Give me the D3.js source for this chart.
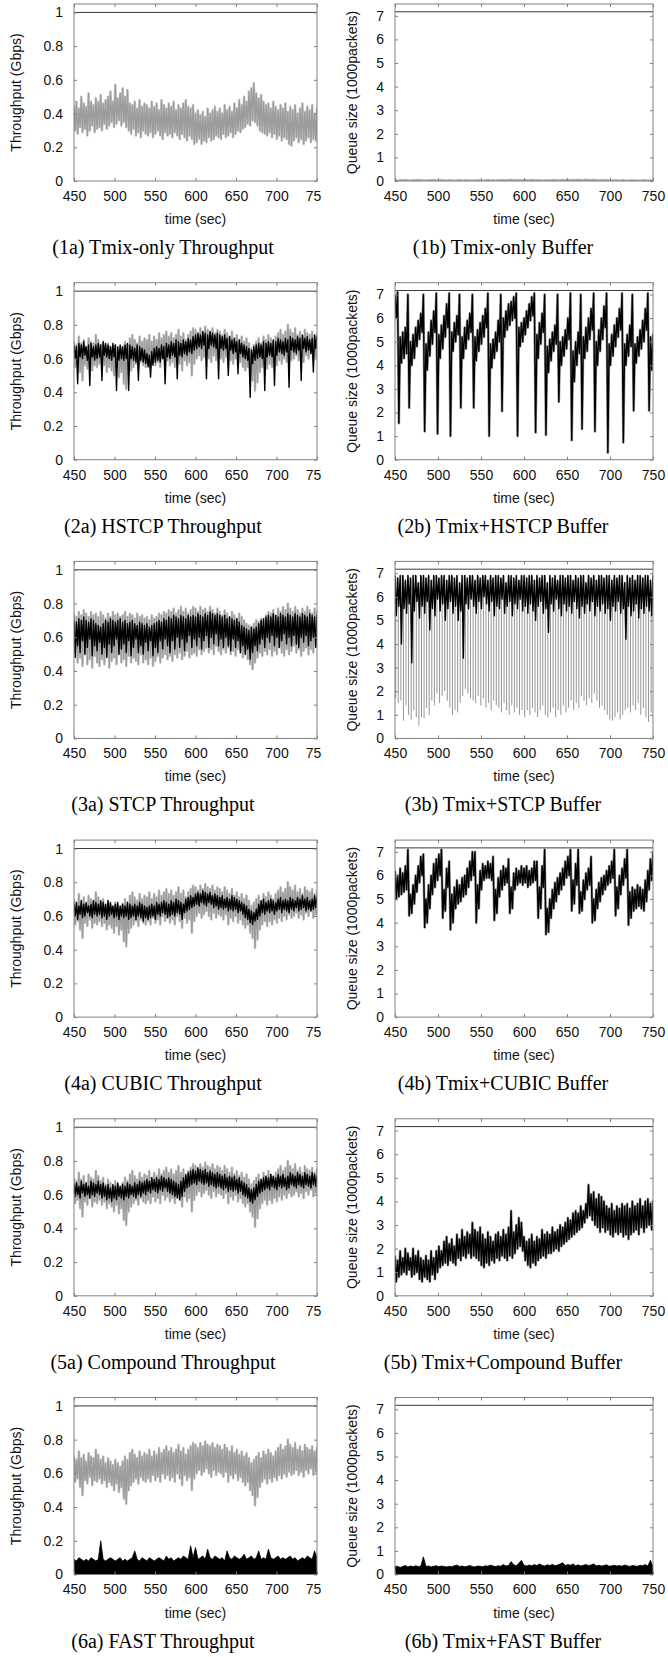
<!DOCTYPE html>
<html lang="en">
<head>
<meta charset="UTF-8">
<title>Throughput and queue size</title>
<script src="https://d3js.org/d3.v7.min.js"></script>
<style>
  body { margin: 0; background: #fff; }
  svg text { font-family: "Liberation Sans", Arial, sans-serif; }
  svg text.cap { font-family: "Liberation Serif", "Times New Roman", serif; }
</style>
</head>
<body>
<svg width="668" height="1657"></svg>
<script>
  // sample times (sec), one hi / lo reading per sample
  const times = d3.range(450, 751, 3);
  const timeTicks = [450, 500, 550, 600, 650, 700, 750];
  const tputTicks = [0, 0.2, 0.4, 0.6, 0.8, 1];
  const queueTicks = [0, 1, 2, 3, 4, 5, 6, 7];
  const linkCap = 1.0;   // Gbps
  const bufCap = 7.17;   // 1000 packets

  const captionsA = ["(1a) Tmix-only Throughput", "(2a) HSTCP Throughput", "(3a) STCP Throughput",
    "(4a) CUBIC Throughput", "(5a) Compound Throughput", "(6a) FAST Throughput"];
  const captionsB = ["(1b) Tmix-only Buffer", "(2b) Tmix+HSTCP Buffer", "(3b) Tmix+STCP Buffer",
    "(4b) Tmix+CUBIC Buffer", "(5b) Tmix+Compound Buffer", "(6b) Tmix+FAST Buffer"];

  // ---- throughput (Gbps) ----
  const tmixHi = [.45,.47,.43,.50,.46,.44,.52,.47,.45,.49, .47,.51,.46,.48,.50,.53,.47,.57,.49,.52,
    .55,.50,.54,.46,.45,.47,.43,.48,.44,.46, .45,.43,.47,.44,.46,.42,.48,.45,.43,.46,
    .44,.47,.42,.45,.43,.46,.48,.44,.43,.45, .40,.42,.39,.41,.38,.43,.40,.42,.44,.41,
    .43,.40,.45,.42,.44,.41,.46,.43,.48,.45, .50,.47,.53,.55,.58,.52,.49,.51,.47,.45,
    .46,.43,.47,.44,.42,.45,.43,.46,.41,.44, .42,.45,.40,.43,.46,.41,.44,.42,.45,.40,.43];
  const tmixLo = [.30,.28,.32,.29,.31,.27,.30,.33,.29,.31, .32,.30,.34,.31,.33,.35,.32,.34,.36,.33,
    .35,.32,.30,.28,.31,.27,.29,.26,.30,.28, .27,.29,.26,.28,.30,.27,.25,.29,.27,.28,
    .26,.29,.27,.25,.28,.26,.24,.27,.25,.22, .23,.25,.22,.24,.23,.26,.24,.25,.27,.26,
    .25,.28,.26,.27,.29,.26,.28,.30,.29,.31, .32,.34,.33,.36,.35,.33,.30,.29,.28,.27,
    .29,.26,.28,.25,.27,.24,.26,.25,.22,.21, .24,.26,.23,.25,.22,.24,.26,.23,.25,.24,.26];

  // aggregate (grey) throughput, panels 2a, 4a, 5a, 6a
  const totalHi = [.70,.68,.73,.69,.71,.67,.72,.70,.69,.74, .71,.68,.70,.66,.69,.67,.65,.68,.66,.64,
    .67,.70,.68,.72,.74,.71,.69,.73,.70,.72, .71,.74,.70,.73,.71,.75,.72,.74,.76,.73,
    .75,.72,.74,.77,.73,.75,.71,.74,.76,.78, .77,.75,.78,.76,.79,.77,.76,.78,.75,.77,
    .76,.74,.77,.75,.73,.76,.72,.74,.71,.73, .70,.72,.69,.66,.68,.70,.72,.69,.73,.71,
    .74,.72,.70,.73,.75,.77,.74,.76,.80,.77, .75,.78,.74,.76,.73,.77,.75,.74,.76,.73,.75];
  const totalLo = [.55,.57,.52,.47,.56,.54,.58,.53,.56,.55, .57,.54,.56,.52,.55,.53,.50,.54,.49,.52,
    .45,.42,.50,.53,.55,.57,.54,.58,.56,.55, .57,.55,.59,.56,.58,.55,.60,.57,.59,.56,
    .58,.55,.60,.57,.53,.59,.56,.58,.50,.57, .60,.62,.59,.61,.63,.60,.58,.62,.59,.61,
    .60,.58,.61,.55,.59,.57,.60,.56,.58,.55, .53,.55,.50,.47,.41,.46,.52,.55,.57,.54,
    .57,.55,.58,.56,.59,.57,.60,.58,.61,.59, .60,.62,.59,.61,.58,.62,.60,.63,.59,.61,.60];

  const hstcpHi = [.68,.67,.69,.68,.70,.67,.68,.69,.67,.68, .69,.68,.70,.69,.68,.67,.69,.68,.67,.68,
    .67,.68,.69,.68,.67,.66,.68,.67,.66,.65, .63,.62,.64,.66,.67,.66,.68,.67,.69,.68,
    .70,.69,.71,.70,.69,.71,.70,.72,.71,.73, .74,.75,.74,.76,.75,.74,.76,.75,.74,.75,
    .74,.73,.74,.72,.73,.71,.72,.70,.71,.69, .68,.67,.66,.65,.67,.68,.69,.68,.70,.69,
    .70,.69,.71,.70,.72,.71,.70,.72,.71,.73, .72,.71,.73,.72,.74,.72,.73,.71,.72,.74,.73];
  const hstcpLo = [.60,.45,.61,.60,.62,.59,.44,.61,.59,.60, .61,.47,.62,.61,.60,.59,.61,.41,.59,.60,
    .59,.60,.41,.60,.59,.58,.47,.59,.58,.57, .55,.49,.56,.58,.59,.58,.60,.45,.61,.60,
    .62,.61,.48,.62,.61,.63,.62,.64,.63,.65, .66,.67,.66,.68,.48,.66,.68,.67,.66,.48,
    .66,.65,.66,.50,.65,.63,.64,.51,.63,.61, .60,.59,.37,.57,.59,.60,.61,.60,.41,.61,
    .62,.61,.44,.62,.64,.63,.62,.64,.43,.65, .64,.63,.65,.47,.66,.64,.65,.63,.52,.66,.65];

  const stcpTotalHi = [.74,.72,.75,.73,.76,.74,.72,.75,.73,.74, .72,.75,.73,.71,.74,.72,.75,.73,.74,.72,
    .73,.75,.72,.74,.73,.71,.74,.72,.73,.71, .72,.70,.73,.71,.72,.74,.73,.75,.74,.76,
    .75,.77,.74,.76,.78,.75,.77,.74,.76,.78, .77,.75,.78,.76,.77,.75,.78,.76,.74,.77,
    .75,.73,.76,.74,.72,.75,.73,.71,.74,.72, .70,.68,.67,.66,.68,.70,.69,.71,.70,.73,
    .75,.74,.76,.73,.77,.75,.78,.76,.80,.77, .75,.78,.76,.74,.77,.75,.78,.76,.74,.77,.75];
  const stcpTotalLo = [.52,.45,.48,.43,.50,.44,.47,.42,.49,.45, .43,.47,.44,.49,.42,.46,.48,.44,.50,.45,
    .47,.43,.49,.45,.48,.46,.44,.50,.45,.47, .44,.48,.43,.46,.49,.45,.48,.50,.47,.49,
    .46,.50,.48,.51,.47,.49,.52,.48,.50,.51, .49,.53,.50,.52,.54,.51,.53,.50,.55,.52,
    .50,.53,.51,.54,.50,.52,.49,.53,.51,.48, .50,.47,.44,.41,.45,.48,.51,.49,.52,.50,
    .53,.49,.52,.50,.54,.51,.49,.53,.50,.52, .55,.51,.53,.49,.52,.54,.50,.53,.51,.55,.52];
  const stcpHi = [.70,.69,.71,.70,.72,.70,.69,.71,.70,.68, .67,.66,.68,.70,.69,.71,.70,.69,.70,.71,
    .69,.70,.68,.69,.70,.68,.67,.69,.68,.67, .68,.66,.67,.68,.69,.70,.69,.71,.70,.72,
    .71,.73,.72,.71,.73,.72,.71,.73,.72,.73, .72,.74,.73,.72,.74,.73,.75,.74,.73,.74,
    .73,.72,.73,.71,.72,.71,.70,.71,.69,.67, .66,.65,.64,.66,.65,.66,.68,.70,.71,.72,
    .73,.72,.74,.73,.72,.74,.73,.72,.74,.73, .72,.74,.73,.72,.74,.73,.72,.74,.73,.72,.73];
  const stcpLo = [.48,.55,.51,.58,.50,.54,.59,.49,.55,.52, .57,.50,.54,.48,.56,.51,.55,.59,.50,.53,
    .56,.51,.58,.49,.54,.59,.51,.55,.50,.57, .52,.58,.49,.54,.51,.58,.53,.59,.55,.51,
    .58,.53,.60,.54,.59,.52,.57,.61,.54,.59, .55,.60,.53,.58,.61,.54,.60,.56,.62,.55,
    .59,.54,.60,.55,.52,.59,.54,.58,.51,.55, .50,.53,.47,.51,.55,.52,.56,.59,.54,.60,
    .57,.61,.55,.60,.54,.58,.62,.56,.60,.55, .61,.56,.54,.60,.57,.61,.55,.58,.60,.54,.57];

  const cubicHi = [.67,.68,.66,.69,.67,.68,.66,.67,.69,.68, .67,.69,.68,.67,.69,.68,.66,.67,.68,.66,
    .67,.66,.68,.67,.66,.67,.66,.68,.67,.66, .65,.66,.67,.66,.68,.67,.68,.69,.68,.67,
    .69,.68,.70,.69,.68,.67,.70,.71,.72,.71, .73,.74,.73,.75,.74,.73,.74,.72,.73,.72,
    .71,.72,.70,.71,.70,.72,.71,.70,.69,.68, .67,.66,.64,.63,.62,.64,.67,.69,.70,.68,
    .69,.70,.69,.68,.70,.71,.69,.70,.69,.71, .70,.69,.71,.70,.72,.70,.71,.69,.70,.72,.71];
  const cubicLo = [.60,.58,.61,.59,.60,.62,.60,.59,.61,.60, .61,.59,.60,.58,.60,.61,.59,.60,.58,.60,
    .59,.60,.58,.59,.60,.58,.60,.59,.57,.59, .58,.59,.60,.58,.61,.60,.62,.61,.59,.60,
    .61,.60,.62,.61,.58,.62,.63,.64,.65,.66, .67,.66,.68,.67,.66,.68,.67,.65,.66,.64,
    .65,.64,.65,.63,.64,.63,.64,.62,.63,.61, .59,.58,.56,.55,.57,.58,.60,.62,.61,.63,
    .62,.63,.61,.63,.64,.62,.64,.63,.62,.64, .63,.65,.63,.64,.65,.63,.64,.63,.64,.65,.64];

  const compoundHi = [.66,.67,.65,.68,.66,.67,.65,.68,.67,.66, .68,.66,.67,.65,.66,.64,.66,.65,.67,.65,
    .66,.65,.67,.66,.65,.67,.66,.68,.67,.68, .69,.68,.70,.69,.70,.69,.71,.70,.69,.70,
    .69,.68,.67,.66,.68,.70,.72,.73,.74,.75, .74,.76,.75,.74,.75,.73,.74,.73,.72,.73,
    .72,.71,.72,.70,.71,.70,.71,.69,.70,.68, .67,.66,.64,.63,.64,.66,.68,.69,.70,.71,
    .70,.72,.71,.70,.72,.71,.72,.70,.71,.73, .72,.71,.73,.72,.71,.73,.72,.71,.73,.72,.71];
  const compoundLo = [.59,.60,.58,.61,.59,.60,.58,.60,.59,.61, .60,.58,.59,.57,.58,.56,.58,.57,.59,.58,
    .57,.59,.58,.60,.59,.58,.60,.59,.61,.60, .62,.61,.63,.62,.61,.63,.62,.64,.62,.61,
    .60,.59,.58,.57,.59,.62,.64,.65,.66,.67, .66,.68,.67,.66,.67,.65,.66,.65,.64,.65,
    .64,.63,.64,.62,.63,.62,.63,.61,.62,.60, .59,.58,.56,.55,.57,.59,.61,.62,.63,.64,
    .63,.65,.64,.63,.65,.64,.65,.63,.64,.66, .65,.64,.66,.65,.64,.66,.65,.64,.66,.65,.64];

  const fastTput = [.09,.08,.10,.09,.08,.09,.08,.10,.09,.08, .09,.20,.09,.08,.09,.10,.09,.08,.09,.10,
    .08,.09,.08,.09,.10,.14,.09,.08,.10,.09, .08,.10,.09,.08,.09,.10,.09,.08,.11,.09,
    .10,.08,.09,.10,.09,.11,.10,.09,.17,.10, .16,.09,.10,.11,.09,.15,.10,.09,.11,.10,
    .09,.10,.08,.14,.10,.09,.11,.10,.09,.10, .12,.09,.10,.11,.09,.10,.14,.09,.10,.09,
    .15,.10,.09,.10,.11,.09,.10,.09,.10,.11, .09,.10,.08,.09,.10,.09,.11,.10,.09,.14,.10];

  // ---- queue size (1000 packets) ----
  const tmixQueue = [.05,.04,.06,.05,.07,.05,.04,.06,.05,.07, .06,.05,.04,.06,.05,.07,.05,.04,.06,.05,
    .04,.06,.05,.04,.05,.06,.04,.05,.06,.04, .05,.04,.06,.05,.04,.05,.07,.05,.06,.04,
    .06,.05,.07,.05,.06,.08,.05,.07,.06,.05, .07,.06,.05,.07,.06,.05,.06,.04,.05,.06,
    .05,.06,.07,.05,.06,.07,.06,.08,.06,.07, .06,.08,.07,.06,.09,.07,.06,.08,.06,.05,
    .06,.05,.07,.05,.04,.06,.05,.04,.06,.05, .04,.05,.06,.04,.05,.04,.06,.05,.04,.05,.04];

  const qHstcpHi = [7.0,7.1,5.2,5.4,5.6,7.0,5.0,5.3,5.6,5.9, 6.2,7.0,4.9,5.4,5.9,6.3,7.05,5.3,5.7,6.1,
    6.6,7.05,5.4,5.8,6.1,7.0,5.2,5.6,5.9,6.2, 7.0,5.2,5.5,5.8,6.1,6.4,7.05,4.9,5.1,5.4,
    5.9,7.0,6.0,6.3,6.6,6.7,6.9,7.05,5.6,5.8, 6.0,6.3,6.6,6.9,7.05,5.3,5.8,6.2,7.0,4.8,
    5.1,5.4,5.7,7.0,5.0,5.2,5.5,6.0,7.05,4.6, 5.0,5.4,7.0,5.2,5.6,6.0,6.4,7.05,5.0,5.5,
    6.0,6.5,7.05,4.9,5.3,5.7,6.0,6.4,7.05,4.9, 5.3,5.7,7.0,4.9,5.2,5.5,5.9,6.4,7.05,5.2,5.3];
  const qHstcpLo = [6.0,1.55,4.1,4.3,4.5,2.2,4.0,4.3,4.8,5.1, 5.4,1.2,3.8,4.4,4.9,5.4,1.1,4.3,4.7,5.2,
    5.6,1.0,4.6,5.0,5.3,2.2,4.3,4.7,5.1,5.4, 2.2,4.2,4.6,4.9,5.2,5.6,1.0,3.9,4.3,4.6,
    5.0,2.05,5.2,5.5,5.7,5.9,6.0,1.0,4.8,5.0, 5.3,5.6,5.9,6.1,1.15,4.3,4.9,5.4,1.05,3.7,
    4.2,4.6,4.9,2.45,4.0,4.4,4.7,5.1,0.82,3.3, 4.0,4.5,1.3,4.3,4.6,5.1,5.5,1.2,4.0,4.6,
    5.1,5.6,0.3,4.0,4.4,4.8,5.2,5.5,0.73,4.0, 4.4,4.8,2.08,4.1,4.4,4.7,5.0,5.5,2.08,3.8,4.2];

  const qStcpHi = [6.9,6.8,6.9,6.9,6.7,6.9,6.8,6.9,6.9,6.6, 6.9,6.9,6.8,6.9,6.7,6.9,6.9,6.8,6.9,6.9,
    6.7,6.9,6.9,6.8,6.9,6.6,6.9,6.9,6.8,6.9, 6.9,6.7,6.9,6.8,6.9,6.9,6.7,6.9,6.8,6.9,
    6.9,6.8,6.9,6.6,6.9,6.9,6.8,6.9,6.7,6.9, 6.9,6.8,6.9,6.9,6.7,6.9,6.8,6.9,6.9,6.6,
    6.9,6.8,6.9,6.7,6.9,6.9,6.8,6.9,6.9,6.7, 6.9,6.8,6.9,6.9,6.6,6.9,6.8,6.9,6.7,6.9,
    6.9,6.8,6.9,6.9,6.7,6.9,6.8,6.9,6.9,6.6, 6.9,6.8,6.9,6.7,6.9,6.9,6.8,6.9,6.9,6.7,6.9];
  const qStcpLo = [5.2,5.6,4.0,5.5,5.3,5.7,3.2,5.4,5.8,5.1, 5.6,5.3,5.8,4.6,5.5,5.2,5.9,5.4,5.7,5.0,
    5.5,5.8,5.3,5.6,5.0,5.4,3.4,5.7,5.5,5.9, 5.6,5.3,5.8,5.5,6.0,5.7,5.4,5.8,5.2,5.6,
    5.5,5.9,5.3,5.6,5.8,5.2,5.7,5.5,5.9,5.4, 5.6,5.3,5.7,5.4,5.0,5.6,5.8,5.3,5.5,4.5,
    5.7,5.4,5.9,5.5,5.2,5.7,5.4,5.6,5.3,5.8, 5.5,5.1,5.6,5.3,5.7,5.4,5.8,5.2,5.6,5.4,
    5.7,5.3,5.5,5.0,5.6,5.4,5.8,5.3,5.5,4.2, 5.6,5.2,5.4,5.7,5.1,5.5,5.3,5.6,5.4,5.2,5.5];
  // deepest point of each grey drop in 3b
  const qStcpDrop = [1.7,1.5,1.6,0.75,1.4,1.0,0.8,1.2,0.9,0.55, 0.9,0.85,1.3,1.0,1.6,1.4,1.9,1.5,1.8,2.0,
    1.6,1.3,1.0,1.2,1.1,1.5,1.8,2.1,1.9,1.7, 1.6,1.5,1.8,1.4,1.7,1.3,1.5,1.2,1.6,1.4,
    1.3,1.1,1.5,1.2,1.0,1.4,1.1,1.3,1.0,1.2, 0.9,1.2,1.0,1.3,1.1,0.9,1.2,1.4,1.0,0.9,
    1.1,1.3,0.9,1.2,1.0,1.4,1.1,1.3,1.6,1.2, 1.5,1.3,1.8,1.6,1.4,1.7,1.5,1.9,1.6,1.3,
    1.4,1.2,1.0,0.8,0.75,0.9,1.1,0.8,1.0,1.2, 1.3,1.1,1.4,1.2,1.5,1.0,1.3,0.9,0.7,1.1,0.8];

  const qCubicHi = [6.2,6.0,6.3,6.1,6.4,7.1,5.2,5.6,6.0,6.4, 6.8,6.9,5.0,5.6,6.0,6.5,6.7,6.9,7.1,5.4,
    6.3,6.6,5.2,5.5,5.8,5.6,5.9,6.0,6.3,6.6, 7.0,7.0,5.6,6.2,6.5,6.4,6.6,6.5,6.8,5.4,
    5.9,6.2,6.4,6.3,6.7,5.5,6.1,6.3,6.2,6.4, 6.3,6.4,6.2,6.3,6.6,6.6,5.5,6.4,7.1,4.6,
    5.0,5.4,5.7,5.9,6.1,6.3,6.6,6.8,7.1,5.8, 6.5,7.1,5.3,5.8,6.1,6.3,6.8,5.0,5.4,5.7,
    5.9,6.0,6.2,6.4,6.6,7.1,5.5,6.0,6.3,6.7, 7.1,5.3,5.5,5.4,5.6,5.5,5.4,5.8,6.2,6.7,7.0];
  const qCubicLo = [5.0,5.1,5.2,5.3,5.4,4.3,4.4,4.8,5.3,5.7, 6.0,3.8,4.0,4.6,5.2,5.5,5.8,6.0,4.2,4.5,
    5.5,3.7,4.0,4.6,4.8,4.9,5.1,5.2,5.5,5.8, 6.0,4.0,4.6,5.4,5.8,5.9,5.9,5.8,4.1,4.4,
    5.1,5.4,5.6,5.7,4.4,4.6,5.4,5.6,5.7,5.6, 5.7,5.5,5.6,5.7,5.8,4.2,4.6,5.5,3.5,3.6,
    4.2,4.6,4.9,5.2,5.4,5.6,5.9,6.0,4.5,4.8, 5.6,4.4,4.5,5.0,5.4,5.6,4.0,4.1,4.6,4.9,
    5.2,5.4,5.6,5.7,5.9,4.3,4.6,5.2,5.6,5.9, 3.9,4.2,4.5,4.6,4.7,4.6,4.5,4.9,5.4,5.8,6.0];

  const qCompoundHi = [1.7,1.5,1.9,1.6,2.0,1.8,1.6,2.0,1.7,1.9, 1.6,1.5,1.7,1.5,1.9,1.6,1.9,2.1,1.9,2.3,
    2.5,2.2,2.4,2.1,2.6,2.4,2.8,2.5,2.7,2.6, 3.1,2.8,2.7,2.9,2.6,2.4,2.7,2.5,2.3,2.6,
    2.7,2.5,2.8,2.6,2.9,3.6,2.7,3.0,3.3,3.1, 2.5,2.3,2.4,2.6,2.3,2.5,2.4,2.8,2.6,2.7,
    2.6,2.9,2.7,2.8,3.0,2.9,3.1,3.3,3.2,3.5, 3.6,3.5,3.8,3.6,3.9,4.7,4.3,4.4,4.1,4.3,
    4.2,4.0,3.8,3.7,3.9,3.6,3.8,3.7,3.9,3.8, 3.9,3.7,4.0,3.8,3.9,4.1,3.8,4.0,4.1,3.9,4.0];
  const qCompoundLo = [0.6,0.8,0.9,1.0,0.9,1.1,0.8,0.9,1.0,0.7, 0.6,0.8,0.7,0.6,0.9,0.7,1.0,1.2,1.3,1.4,
    1.3,1.5,1.4,1.3,1.6,1.5,1.7,1.6,1.8,1.6, 1.7,1.6,1.5,1.3,1.2,1.4,1.3,1.5,1.4,1.6,
    1.5,1.7,1.6,1.5,1.7,1.6,1.8,2.0,2.1,1.9, 1.5,1.3,1.2,1.4,1.3,1.5,1.6,1.7,1.6,1.8,
    1.8,1.9,2.0,1.9,2.1,2.2,2.3,2.4,2.5,2.6, 2.7,2.8,2.9,3.1,3.3,3.4,3.2,3.0,2.9,2.7,
    2.9,2.7,2.8,2.6,2.5,2.7,2.6,2.7,2.5,2.6, 2.4,2.6,2.7,2.8,2.6,2.9,2.7,2.9,3.0,2.8,2.9];

  const qFast = [.33,.35,.30,.34,.38,.32,.36,.33,.37,.34, .35,.75,.34,.36,.32,.35,.37,.33,.36,.34,
    .32,.35,.33,.37,.40,.34,.36,.33,.35,.38, .34,.32,.36,.35,.33,.37,.35,.40,.36,.34,
    .37,.35,.42,.36,.38,.55,.41,.37,.48,.60, .39,.36,.40,.37,.42,.38,.45,.39,.36,.41,
    .38,.43,.37,.40,.44,.50,.38,.42,.39,.45, .37,.41,.36,.39,.42,.38,.40,.45,.37,.39,
    .36,.38,.41,.35,.37,.39,.36,.38,.35,.40, .37,.34,.38,.36,.35,.39,.37,.42,.36,.60,.34];

  const GREY = "#9c9c9c", GREY_LT = "#cfcfcf";

  const panelsA = [
    [{ type: "zig", hi: tmixHi, lo: tmixLo, color: GREY, halo: GREY_LT }],
    [{ type: "zig", hi: totalHi, lo: totalLo, color: GREY, halo: GREY_LT },
     { type: "zig", hi: hstcpHi, lo: hstcpLo, color: "#000" }],
    [{ type: "zig", hi: stcpTotalHi, lo: stcpTotalLo, color: GREY, halo: GREY_LT },
     { type: "zig", hi: stcpHi, lo: stcpLo, color: "#000" }],
    [{ type: "zig", hi: totalHi, lo: totalLo, color: GREY, halo: GREY_LT },
     { type: "zig", hi: cubicHi, lo: cubicLo, color: "#000" }],
    [{ type: "zig", hi: totalHi, lo: totalLo, color: GREY, halo: GREY_LT },
     { type: "zig", hi: compoundHi, lo: compoundLo, color: "#000" }],
    [{ type: "zig", hi: totalHi, lo: totalLo, color: GREY, halo: GREY_LT },
     { type: "fill", hi: fastTput, color: "#000" }]
  ];
  const panelsB = [
    [{ type: "fill", hi: tmixQueue, color: "#a8a8a8" }],
    [{ type: "zig", hi: qHstcpHi, lo: qHstcpLo, color: "#000", halo: GREY }],
    [{ type: "bars", hi: qStcpHi, lo: qStcpDrop, color: "#8a8a8a" },
     { type: "zig", hi: qStcpHi, lo: qStcpLo, color: "#000" }],
    [{ type: "zig", hi: qCubicHi, lo: qCubicLo, color: "#000", halo: GREY }],
    [{ type: "zig", hi: qCompoundHi, lo: qCompoundLo, color: "#000", halo: GREY }],
    [{ type: "fill", hi: qFast, color: "#000" }]
  ];

  const svg = d3.select("svg");
  const defs = svg.append("defs");
  const rowPitch = 278.7, plotH = 177, top0 = 4;
  const cols = [
    { x0: 74, x1: 317, capX: 163, labelX: 21, yLabel: "Throughput (Gbps)", domain: [0, 1.05], ticks: tputTicks, cap: linkCap },
    { x0: 395, x1: 653, capX: 503, labelX: 357, yLabel: "Queue size (1000packets)", domain: [0, 7.5], ticks: queueTicks, cap: bufCap }
  ];

  // the left column is cut off just after the last tick label
  defs.append("clipPath").attr("id", "leftCut").append("rect")
    .attr("x", 0).attr("y", 0).attr("width", 321).attr("height", 1657);

  function drawPanel(row, ci, series, caption) {
    const c = cols[ci];
    const top = top0 + row * rowPitch, bottom = top + plotH;
    const x = d3.scaleLinear().domain([450, 750]).range([c.x0, c.x1]);
    const y = d3.scaleLinear().domain(c.domain).range([bottom, top]);

    const g = svg.append("g");
    if (ci === 0) g.attr("clip-path", "url(#leftCut)");

    const clipId = "plot" + row + "_" + ci;
    defs.append("clipPath").attr("id", clipId).append("rect")
      .attr("x", c.x0).attr("y", top).attr("width", c.x1 - c.x0).attr("height", plotH);
    const plot = g.append("g").attr("clip-path", "url(#" + clipId + ")");

    // capacity line
    plot.append("line")
      .attr("x1", c.x0).attr("x2", c.x1)
      .attr("y1", y(c.cap)).attr("y2", y(c.cap))
      .attr("stroke", "#3a3a3a").attr("stroke-width", 1);

    const line = d3.line().x(d => x(d[0])).y(d => y(d[1]));
    const area = d3.area().x(d => x(d[0])).y0(y(0)).y1(d => y(d[1]));

    series.forEach(s => {
      if (s.type === "zig") {
        const pts = s.hi.flatMap((v, i) => [[times[i], v], [times[i] + 1.5, s.lo[i]]]);
        if (s.halo) {
          plot.append("path").attr("d", line(pts)).attr("fill", "none")
            .attr("stroke", s.halo).attr("stroke-width", 2.6).attr("stroke-linejoin", "round");
        }
        plot.append("path").attr("d", line(pts)).attr("fill", "none")
          .attr("stroke", s.color).attr("stroke-width", 1.4).attr("stroke-linejoin", "round");
      } else if (s.type === "fill") {
        plot.append("path").attr("d", area(s.hi.map((v, i) => [times[i], v])))
          .attr("fill", s.color).attr("stroke", s.color).attr("stroke-width", 0.8);
      } else if (s.type === "bars") {
        plot.append("g").selectAll("line")
          .data(s.hi.map((v, i) => [times[i] + 0.8, v, s.lo[i]]))
          .join("line")
          .attr("x1", d => x(d[0])).attr("x2", d => x(d[0]))
          .attr("y1", d => y(d[1])).attr("y2", d => y(d[2]))
          .attr("stroke", s.color).attr("stroke-width", 0.9);
      }
    });

    // axes (gnuplot style: inward ticks mirrored on all sides)
    const axisStyle = sel => {
      sel.attr("color", "#808080").attr("font-size", 14)
        .attr("font-family", "'Liberation Sans', Arial, sans-serif");
      sel.select(".domain").remove();
      sel.selectAll("text").attr("fill", "#111");
    };
    const fmt = d3.format("~g");
    g.append("g").attr("transform", "translate(0," + bottom + ")")
      .call(d3.axisBottom(x).tickValues(timeTicks).tickSize(-3).tickPadding(10).tickFormat(fmt))
      .call(axisStyle);
    g.append("g").attr("transform", "translate(0," + top + ")")
      .call(d3.axisTop(x).tickValues(timeTicks).tickSize(-3).tickFormat(""))
      .call(axisStyle);
    g.append("g").attr("transform", "translate(" + c.x0 + ",0)")
      .call(d3.axisLeft(y).tickValues(c.ticks).tickSize(-3).tickPadding(11).tickFormat(fmt))
      .call(axisStyle);
    g.append("g").attr("transform", "translate(" + c.x1 + ",0)")
      .call(d3.axisRight(y).tickValues(c.ticks).tickSize(-3).tickFormat(""))
      .call(axisStyle);

    g.append("rect")
      .attr("x", c.x0).attr("y", top).attr("width", c.x1 - c.x0).attr("height", plotH)
      .attr("fill", "none").attr("stroke", "#808080").attr("stroke-width", 1);

    g.append("text")
      .attr("x", (c.x0 + c.x1) / 2).attr("y", bottom + 43)
      .attr("text-anchor", "middle").attr("font-size", 14).attr("fill", "#111")
      .text("time (sec)");

    g.append("text")
      .attr("transform", "translate(" + c.labelX + "," + (top + plotH / 2) + ") rotate(-90)")
      .attr("text-anchor", "middle").attr("font-size", 14).attr("fill", "#111")
      .text(c.yLabel);

    g.append("text")
      .attr("class", "cap")
      .attr("x", c.capX).attr("y", bottom + 73)
      .attr("text-anchor", "middle").attr("font-size", 20).attr("fill", "#000")
      .text(caption);
  }

  panelsA.forEach((s, r) => drawPanel(r, 0, s, captionsA[r]));
  panelsB.forEach((s, r) => drawPanel(r, 1, s, captionsB[r]));
</script>
</body>
</html>
